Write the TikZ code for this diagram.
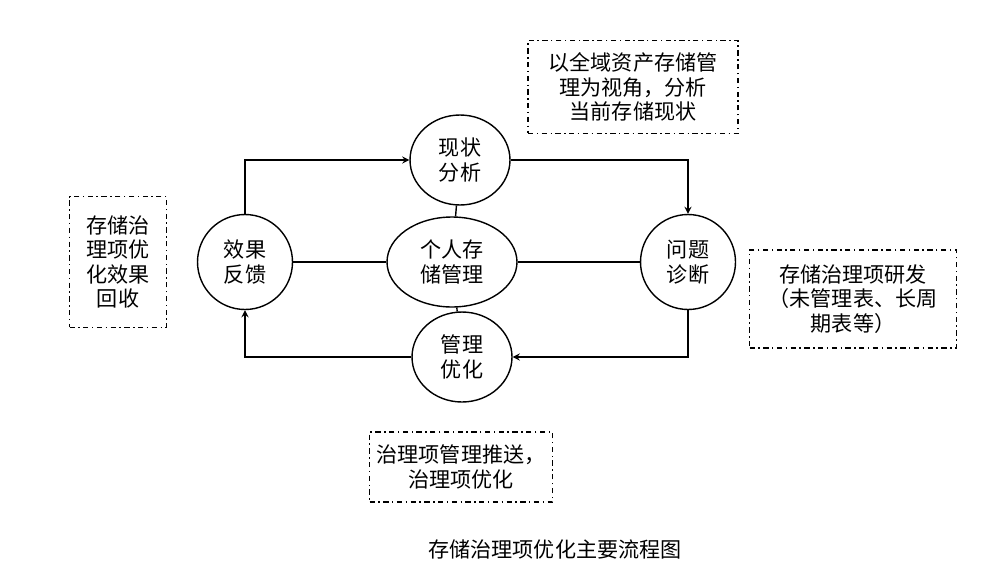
\documentclass[tikz,border=0pt]{standalone}
\usepackage{fontspec}
\setmainfont{Noto Sans CJK SC}
\usetikzlibrary{shapes.geometric,calc}
\tikzset{
    stage/.style={draw,thick,ellipse,minimum width=2cm,minimum height=1.8cm,font=\large,align=center,inner sep=1pt},
    note/.style={draw,thick,dash dot,align=center,font=\large,inner sep=4pt}
}
\begin{document}
\begin{tikzpicture}[>=stealth,x=0.02cm,y=-0.02cm]
            \useasboundingbox (0,0) rectangle (982,578);
            \node[stage] (xz) at (460,160) {现状\\分析};
            \node[stage,minimum width=2.6cm] (gr) at (452,262) {个人存\\储管理};
            \node[stage,minimum width=1.9cm,minimum height=1.9cm] (wt) at (688,262) {问题\\诊断};
            \node[stage] (gl) at (462,357) {管理\\优化};
            \node[stage,minimum width=1.9cm,minimum height=1.9cm] (xg) at (245,262) {效果\\反馈};
            \node[note,minimum width=4.2cm,minimum height=1.86cm] (n1) at (633,87) {以全域资产存储管\\理为视角，分析\\当前存储现状};
            \node[note,minimum width=1.94cm,minimum height=2.62cm] (n2) at (118,262) {存储治\\理项优\\化效果\\回收};
            \node[note,minimum width=4.14cm,minimum height=1.96cm] (n3) at (853,299) {存储治理项研发\\（未管理表、长周\\期表等）};
            \node[note,minimum width=3.66cm,minimum height=1.4cm] (n4) at (461,467) {治理项管理推送，\\治理项优化};
            \node[font=\large] (cap) at (555,549) {存储治理项优化主要流程图};
            % cycle
            \draw[thick,->] (xg.north) |- (xz.west);
            \draw[thick,->] (xz.east) -| (wt.north);
            \draw[thick,->] (wt.south) |- (gl.east);
            \draw[thick,->] (gl.west) -| (xg.south);
            % spokes
            \draw[thick] (xz) -- (gr) -- (gl);
            \draw[thick] (xg) -- (gr) -- (wt);
\end{tikzpicture}
\end{document}
